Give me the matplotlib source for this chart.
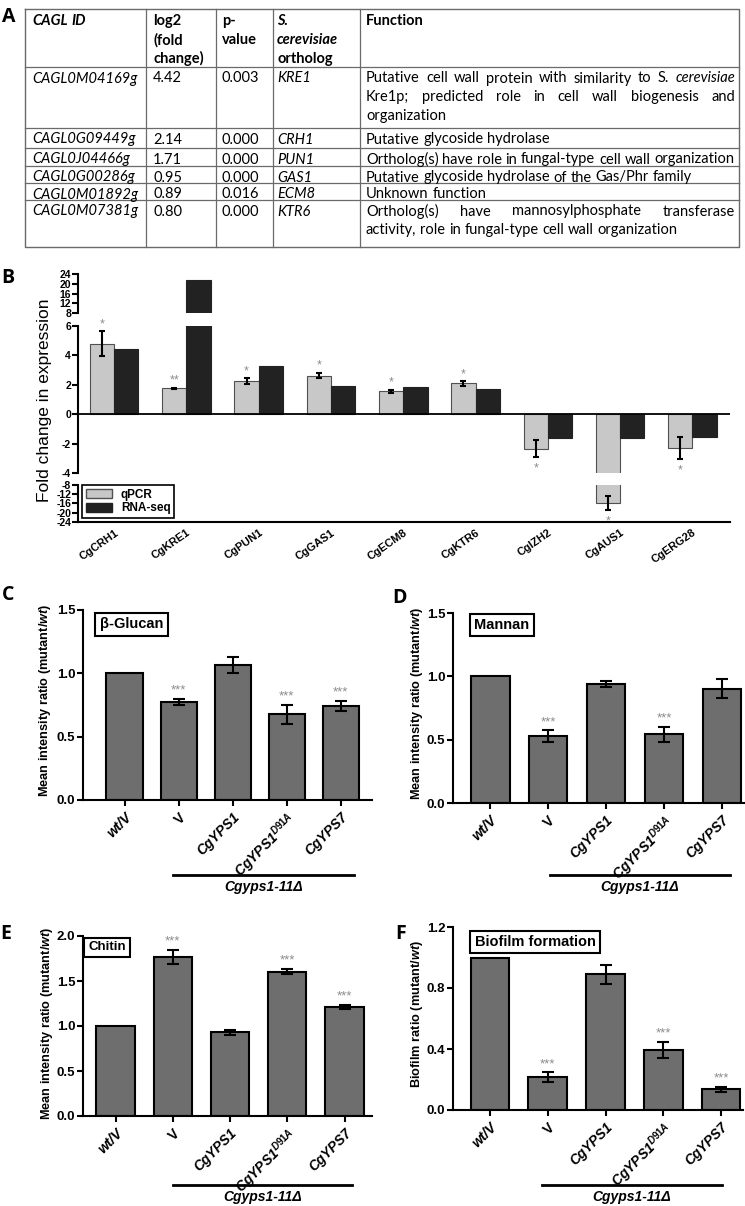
import matplotlib
matplotlib.use('Agg')
import matplotlib.pyplot as plt
from matplotlib.patches import Patch
from matplotlib.lines import Line2D
from matplotlib.ticker import FormatStrFormatter
import numpy as np

plt.rcParams['font.family'] = 'Liberation Sans'
plt.rcParams['axes.unicode_minus'] = False
plt.rcParams['mathtext.fontset'] = 'custom'
plt.rcParams['mathtext.rm'] = 'Liberation Sans:bold'
plt.rcParams['mathtext.it'] = 'Liberation Sans:italic:bold'
plt.rcParams['mathtext.bf'] = 'Liberation Sans:bold'

# ---- panel A: table ----
cagl_ids = ['CAGL0M04169g', 'CAGL0G09449g', 'CAGL0J04466g',
            'CAGL0G00286g', 'CAGL0M01892g', 'CAGL0M07381g']
log2_fc = ['4.42', '2.14', '1.71', '0.95', '0.89', '0.80']
p_values = ['0.003', '0.000', '0.000', '0.000', '0.016', '0.000']
orthologs = ['KRE1', 'CRH1', 'PUN1', 'GAS1', 'ECM8', 'KTR6']
functions = [
    ['Putative cell wall protein with similarity to S. _cerevisiae',
     'Kre1p; predicted role in cell wall biogenesis and',
     'organization'],
    ['Putative glycoside hydrolase'],
    ['Ortholog(s) have role in fungal-type cell wall organization'],
    ['Putative glycoside hydrolase of the Gas/Phr family'],
    ['Unknown function'],
    ['Ortholog(s) have mannosylphosphate transferase',
     'activity, role in fungal-type cell wall organization'],
]
headers = [['_CAGL _ID'], ['log2', '(fold', 'change)'], ['p-', 'value'],
           ['_S.', '_cerevisiae', 'ortholog'], ['Function']]

# ---- panel B ----
genes = ['CgCRH1', 'CgKRE1', 'CgPUN1', 'CgGAS1', 'CgECM8',
         'CgKTR6', 'CgIZH2', 'CgAUS1', 'CgERG28']
qpcr = [4.8, 1.75, 2.25, 2.63, 1.56, 2.09, -2.34, -15.8, -2.29]
qpcr_err = [0.85, 0.05, 0.22, 0.2, 0.1, 0.15, 0.59, 3.1, 0.76]
rnaseq = [4.41, 21.4, 3.27, 1.93, 1.85, 1.74, -1.61, -1.59, -1.57]
qpcr_sig = ['*', '**', '*', '*', '*', '*', '*', '*', '*']

# ---- panels C-F ----
strains = ['wt/V', 'V', 'CgYPS1', r'CgYPS1$^{\mathit{D91A}}$', 'CgYPS7']
glucan = [1.0, 0.776, 1.066, 0.677, 0.745]
glucan_err = [0, 0.025, 0.065, 0.075, 0.04]
glucan_sig = ['', '***', '', '***', '***']
mannan = [1.0, 0.529, 0.937, 0.542, 0.903]
mannan_err = [0, 0.045, 0.025, 0.06, 0.075]
mannan_sig = ['', '***', '', '***', '']
chitin = [1.0, 1.767, 0.93, 1.604, 1.214]
chitin_err = [0, 0.08, 0.03, 0.03, 0.02]
chitin_sig = ['', '***', '', '***', '***']
biofilm = [1.0, 0.214, 0.89, 0.393, 0.135]
biofilm_err = [0, 0.032, 0.064, 0.055, 0.016]
biofilm_sig = ['', '***', '', '***', '***']

W, H = 745, 1206
fig = plt.figure(figsize=(W / 100, H / 100), dpi=100)


def box(x0, y0, x1, y1):
    return [x0 / W, 1 - y1 / H, (x1 - x0) / W, (y1 - y0) / H]


axT = fig.add_axes([0, 0, 1, 1])
axT.set_xlim(0, W)
axT.set_ylim(H, 0)
axT.axis('off')
renderer = fig.canvas.get_renderer()

# table grid
tl, tr, tt, tb = 25, 739, 9.3, 246.7
row_lines = [67, 128, 148, 166, 183, 200]
col_lines = [145.7, 215.7, 272.7, 360]
gcol = '#6a6a6a'
axT.plot([tl, tr, tr, tl, tl], [tt, tt, tb, tb, tt], color=gcol, lw=1)
for yy in row_lines:
    axT.plot([tl, tr], [yy, yy], color=gcol, lw=0.9)
for xx in col_lines:
    axT.plot([xx, xx], [tt, tb], color=gcol, lw=0.9)

col_x = [32, 153, 222, 277, 366]
right_edge = 735
fs_tab = 10.5
line_step = 18.7


def width_of(s, italic, weight):
    t = axT.text(0, 0, s, fontsize=fs_tab, family='Lato', fontweight=weight,
                 fontstyle='italic' if italic else 'normal')
    w = t.get_window_extent(renderer).width
    t.remove()
    return w


space_w = width_of('n n', False, 'normal') - width_of('nn', False, 'normal')


def put_line(x0, y, line, justify=False, weight='normal'):
    words = line.split(' ')
    objs = []
    for wd in words:
        it = wd.startswith('_')
        wd = wd.lstrip('_')
        objs.append(axT.text(x0, y, wd, fontsize=fs_tab, family='Lato',
                             fontweight=weight,
                             fontstyle='italic' if it else 'normal',
                             va='center', ha='left'))
    widths = [o.get_window_extent(renderer).width for o in objs]
    gap = space_w
    if justify and len(objs) > 1:
        gap = (right_edge - x0 - sum(widths)) / (len(objs) - 1)
    x = x0
    for o, w in zip(objs, widths):
        o.set_x(x)
        x += w + gap


for c, lines in enumerate(headers):
    for k, ln in enumerate(lines):
        put_line(col_x[c], tt + 12 + k * line_step, ln, weight='bold')

row_top = [67, 128, 148, 166, 183, 200]
for r in range(len(cagl_ids)):
    y0 = row_top[r] + 11.5
    put_line(col_x[0], y0, '_' + cagl_ids[r])
    put_line(col_x[1], y0, log2_fc[r])
    put_line(col_x[2], y0, p_values[r])
    put_line(col_x[3], y0, '_' + orthologs[r])
    fl = functions[r]
    for k, ln in enumerate(fl):
        put_line(col_x[4], y0 + k * line_step, ln, justify=(k < len(fl) - 1))

# ---- panel B: broken axis ----
rects_b = [box(78, 274, 730, 313), box(78, 326, 730, 473), box(78, 485, 730, 522)]
ylims_b = [(8, 24), (-4, 6), (-24, -8)]
yticks_b = [[8, 12, 16, 20, 24], [-4, -2, 0, 2, 4, 6], [-24, -20, -16, -12, -8]]
xb = np.arange(len(genes))
bw = 0.336
axes_b = []
for rect, yl, yt in zip(rects_b, ylims_b, yticks_b):
    ax = fig.add_axes(rect)
    ax.bar(xb - bw / 2, qpcr, bw, color='#c8c8c8', edgecolor='#505050', lw=0.8)
    ax.bar(xb + bw / 2, rnaseq, bw, color='#222222', edgecolor='#222222', lw=0.8)
    ax.errorbar(xb - bw / 2, qpcr, yerr=qpcr_err, fmt='none', ecolor='black',
                elinewidth=1.5, capsize=2.5, capthick=1.5)
    ax.set_xlim(-0.5, 8.52)
    ax.set_ylim(*yl)
    ax.set_yticks(yt)
    ax.patch.set_alpha(0)
    for s in ['top', 'right', 'bottom']:
        ax.spines[s].set_visible(False)
    ax.spines['left'].set_linewidth(1.5)
    ax.tick_params(axis='y', length=4, width=1.5, labelsize=7.5, pad=1)
    for lab in ax.get_yticklabels():
        lab.set_fontweight('bold')
    ax.set_xticks([])
    axes_b.append(ax)

axes_b[1].axhline(0, color='black', lw=1.3)
axb = axes_b[2]
axb.spines['bottom'].set_visible(True)
axb.spines['bottom'].set_linewidth(1.5)
axb.set_xticks(xb)
axb.set_xticklabels(genes, rotation=35, ha='right', rotation_mode='anchor',
                    fontsize=8, fontweight='bold')
axb.tick_params(axis='x', length=0, pad=4)

for i, (q, e, s) in enumerate(zip(qpcr, qpcr_err, qpcr_sig)):
    end = q + e if q > 0 else q - e
    if end < -8:
        ax = axes_b[2]
    elif end > 8:
        ax = axes_b[0]
    else:
        ax = axes_b[1]
    off = 5 if q > 0 else -8
    ax.annotate(s, xy=(i - bw / 2, end), xytext=(0, off), textcoords='offset points',
                ha='center', va='center', fontsize=9, color='#8c8c8c',
                annotation_clip=False)

fig.text(45 / W, 1 - 400 / H, 'Fold change in expression', rotation=90,
         ha='center', va='center', fontsize=12.5)

leg = fig.legend(handles=[Patch(fc='#c8c8c8', ec='#505050', label='qPCR'),
                          Patch(fc='#222222', ec='#222222', label='RNA-seq')],
                 loc='upper left', bbox_to_anchor=(82 / W, 1 - 485 / H),
                 fancybox=False, edgecolor='black', framealpha=1,
                 prop={'weight': 'bold', 'size': 8.5}, borderpad=0.3,
                 handlelength=2.2, handleheight=0.8, labelspacing=0.15,
                 borderaxespad=0, handletextpad=0.8)
leg.get_frame().set_linewidth(1.2)


# ---- panels C-F ----
def bar_panel(rect, vals, errs, sig, xlim, ylim, yticks, ylabel, ylab_xy,
              title, title_xy, title_fs, under):
    ax = fig.add_axes(box(*rect))
    x = np.arange(len(strains))
    ax.bar(x, vals, 0.67, color='#6e6e6e', edgecolor='black', lw=1.5)
    ex = [i for i in x if errs[i] > 0]
    ax.errorbar(ex, [vals[i] for i in ex], yerr=[errs[i] for i in ex], fmt='none',
                ecolor='black', elinewidth=1.5, capsize=4, capthick=1.5)
    for i in x:
        if sig[i]:
            ax.annotate(sig[i], xy=(i, vals[i] + errs[i]), xytext=(0, 6),
                        textcoords='offset points', ha='center', va='center',
                        fontsize=9.5, color='#8c8c8c')
    ax.set_xlim(*xlim)
    ax.set_ylim(*ylim)
    ax.set_yticks(yticks)
    ax.yaxis.set_major_formatter(FormatStrFormatter('%.1f'))
    for s in ['top', 'right']:
        ax.spines[s].set_visible(False)
    for s in ['left', 'bottom']:
        ax.spines[s].set_linewidth(1.5)
    ax.tick_params(length=4, width=1.5, labelsize=10)
    ax.tick_params(axis='y', pad=1.5, labelsize=9.5)
    for lab in ax.get_yticklabels():
        lab.set_fontweight('bold')
    ax.set_xticks(x)
    ax.set_xticklabels(strains, rotation=45, ha='right', rotation_mode='anchor',
                       fontsize=10, fontweight='bold', fontstyle='italic')
    ax.get_xticklabels()[1].set_fontstyle('normal')
    fig.text(ylab_xy[0] / W, 1 - ylab_xy[1] / H, ylabel, rotation=90,
             ha='center', va='center', fontsize=9.2, fontweight='bold')
    fig.text(title_xy[0] / W, 1 - title_xy[1] / H, title, ha='center',
             va='center', fontsize=title_fs, fontweight='bold',
             bbox=dict(boxstyle='square,pad=0.3', fc='white', ec='black', lw=1.5))
    ux0, ux1, uy = under
    fig.add_artist(Line2D([ux0 / W, ux1 / W], [1 - uy / H] * 2,
                          transform=fig.transFigure, color='black', lw=2))
    fig.text((ux0 + ux1) / 2 / W, 1 - (uy + 12) / H, 'Cgyps1-11Δ', ha='center',
             va='center', fontsize=10, fontweight='bold', fontstyle='italic')
    return ax


mir = 'Mean intensity ratio (mutant/$\\mathit{wt}$)'
bar_panel((83, 610, 372, 800), glucan, glucan_err, glucan_sig, (-0.77, 4.58),
          (0, 1.5), [0, 0.5, 1.0, 1.5], mir, (45, 700), 'β-Glucan', (131.5, 624.5),
          10.5, (173, 354, 875))
bar_panel((453, 613, 744, 803), mannan, mannan_err, mannan_sig, (-0.64, 4.38),
          (0, 1.5), [0, 0.5, 1.0, 1.5], mir, (417, 703), 'Mannan', (502, 625),
          10.5, (550, 730, 875))
bar_panel((83, 936, 372, 1116), chitin, chitin_err, chitin_sig, (-0.57, 4.48),
          (0, 2.0), [0, 0.5, 1.0, 1.5, 2.0], mir, (47, 1023), 'Chitin', (107, 947.5),
          9.5, (173, 352, 1185))
bar_panel((453, 927, 743, 1110), biofilm, biofilm_err, biofilm_sig, (-0.64, 4.38),
          (0, 1.2), [0, 0.4, 0.8, 1.2], 'Biofilm ratio (mutant/$\\mathit{wt}$)',
          (417, 1014), 'Biofilm formation', (535, 942), 10.5, (542, 722, 1185))

# panel letters
for letter, (lx, ly) in zip('ABCDEF', [(9, 17), (8, 278), (8, 595), (400, 598),
                                       (6, 934), (401, 934)]):
    fig.text(lx / W, 1 - ly / H, letter, ha='center', va='center', fontsize=14,
             fontweight='bold', family='Open Sans')

fig.savefig('out.png', dpi=100)
